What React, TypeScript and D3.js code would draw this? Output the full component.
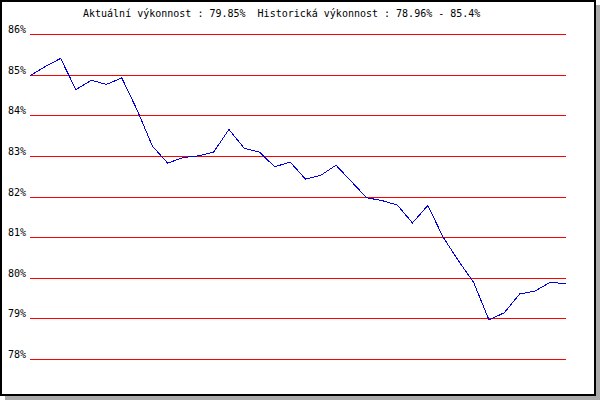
import React from "react";
import * as d3 from "d3";

// performance readings, one per step, left to right
const values = [
  84.97, 85.2, 85.4, 84.63, 84.86, 84.76, 84.92, 84.13, 83.24, 82.82, 82.96, 83.0,
  83.09, 83.65, 83.19, 83.09, 82.73, 82.85, 82.43, 82.52, 82.77, 82.37, 81.97, 81.9,
  81.79, 81.35, 81.78, 81.0, 80.42, 79.88, 78.96, 79.14, 79.6, 79.67, 79.89, 79.85,
];
const yTicks = [86, 85, 84, 83, 82, 81, 80, 79, 78];
const title =
  "Aktuální výkonnost : 79.85%  Historická výkonnost : 78.96% - 85.4%";

const width = 600;
const height = 400;
const font = "'DejaVu Sans Mono', monospace";

export default function App() {
  const x = d3
    .scaleLinear()
    .domain([0, values.length - 1])
    .range([30, 565.5]);
  const y = d3.scaleLinear().domain([78, 86]).range([359, 34]);

  const line = d3
    .line<number>()
    .x((d, i) => x(i))
    .y((d) => y(d));

  return (
    <div>
      <style>{`body{margin:0}`}</style>
      <svg width={width} height={height} style={{ display: "block" }}>
        {/* shadow + frame */}
        <rect x={5} y={5} width={595} height={395} fill="#aaaaaa" />
        <rect x={0} y={0} width={596} height={396} fill="#000" />
        <rect x={2} y={2} width={592} height={392} fill="#fff" />

        <text
          x={83}
          y={17}
          fontFamily={font}
          fontSize={10}
          fill="#000"
          style={{ whiteSpace: "pre" }}
        >
          {title}
        </text>

        {/* gridlines and labels */}
        {yTicks.map((t) => {
          const yy = Math.round(y(t)) + 0.5;
          return (
            <g key={t}>
              <line
                x1={30}
                x2={566}
                y1={yy}
                y2={yy}
                stroke="#ff0000"
                strokeWidth={1}
                shapeRendering="crispEdges"
              />
              <text
                x={8}
                y={yy - 1.5}
                fontFamily={font}
                fontSize={10}
                fill="#000"
              >
                {t}%
              </text>
            </g>
          );
        })}

        <path
          d={line(values) || ""}
          fill="none"
          stroke="#0000dd"
          strokeWidth={1}
          shapeRendering="crispEdges"
        />
      </svg>
    </div>
  );
}
